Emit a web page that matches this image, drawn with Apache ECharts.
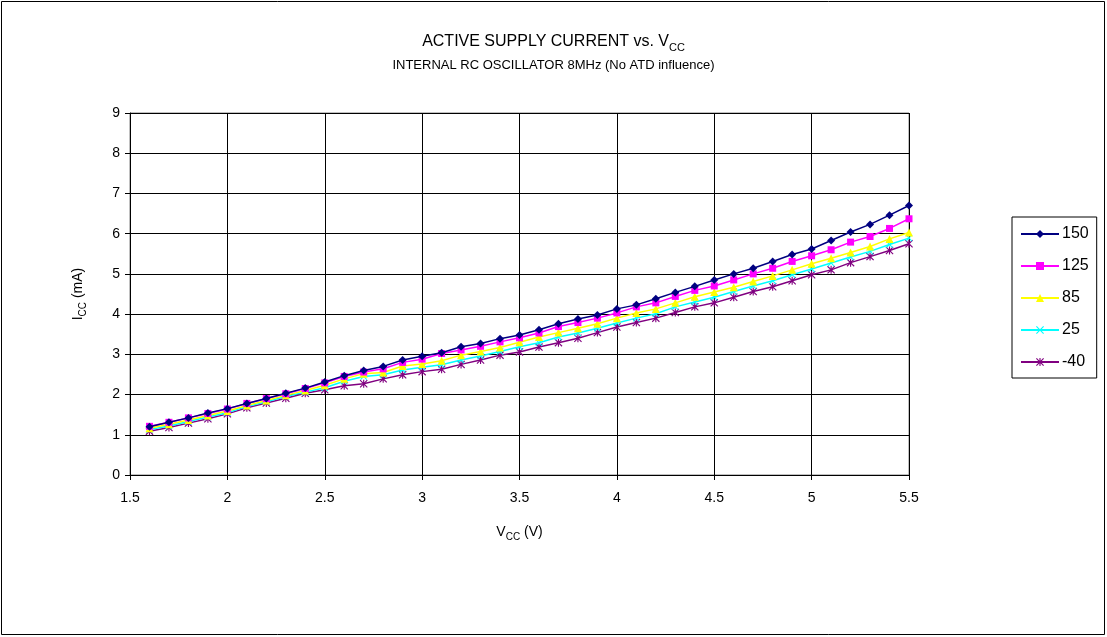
<!DOCTYPE html>
<html>
<head>
<meta charset="utf-8">
<script src="https://cdn.jsdelivr.net/npm/echarts@6/dist/echarts.min.js"></script>
<style>
html,body{margin:0;padding:0;background:#fff;}
#chart{width:1107px;height:637px;}
</style>
</head>
<body>
<div id="chart"></div>
<script>
const vcc = [1.6,1.7,1.8,1.9,2.0,2.1,2.2,2.3,2.4,2.5,2.6,2.7,2.8,2.9,3.0,3.1,3.2,3.3,3.4,3.5,3.6,3.7,3.8,3.9,4.0,4.1,4.2,4.3,4.4,4.5,4.6,4.7,4.8,4.9,5.0,5.1,5.2,5.3,5.4,5.5];
const s150 = [1.20,1.31,1.42,1.54,1.65,1.78,1.90,2.03,2.16,2.31,2.47,2.60,2.70,2.86,2.95,3.04,3.19,3.27,3.39,3.48,3.61,3.76,3.88,3.98,4.13,4.23,4.38,4.54,4.69,4.85,5.00,5.14,5.31,5.48,5.62,5.83,6.04,6.23,6.46,6.70];
const s125 = [1.21,1.31,1.42,1.53,1.64,1.78,1.90,2.02,2.15,2.29,2.45,2.56,2.64,2.80,2.88,3.02,3.11,3.20,3.31,3.41,3.53,3.69,3.79,3.90,4.03,4.18,4.28,4.44,4.59,4.70,4.85,5.00,5.14,5.31,5.45,5.60,5.79,5.93,6.13,6.37];
const s85 = [1.16,1.26,1.37,1.48,1.59,1.73,1.85,1.98,2.10,2.23,2.39,2.52,2.55,2.71,2.76,2.84,2.98,3.07,3.17,3.30,3.43,3.54,3.65,3.76,3.90,4.03,4.13,4.28,4.43,4.55,4.67,4.81,4.95,5.10,5.25,5.39,5.53,5.68,5.87,6.03];
const s25 = [1.13,1.22,1.33,1.44,1.55,1.70,1.82,1.95,2.06,2.17,2.33,2.45,2.49,2.61,2.68,2.74,2.86,2.96,3.07,3.19,3.29,3.43,3.53,3.65,3.78,3.90,4.01,4.18,4.30,4.42,4.56,4.70,4.83,4.98,5.12,5.27,5.42,5.56,5.73,5.89];
const sm40 = [1.09,1.18,1.29,1.40,1.52,1.67,1.79,1.91,2.03,2.12,2.22,2.27,2.39,2.49,2.57,2.63,2.75,2.86,2.98,3.06,3.18,3.29,3.40,3.54,3.68,3.79,3.90,4.04,4.18,4.28,4.42,4.56,4.68,4.83,4.98,5.10,5.28,5.43,5.58,5.75];
const seriesNames = ['150','125','85','25','-40'];
const yTicks = [0,1,2,3,4,5,6,7,8,9];
const xTicks = [1.5,2,2.5,3,3.5,4,4.5,5,5.5];

const allData = [s150,s125,s85,s25,sm40];
const colors = ['#000080','#FF00FF','#FFFF00','#00FFFF','#800080'];
const xMark = 'path://M0,1 L1,0 L5,4 L9,0 L10,1 L6,5 L10,9 L9,10 L5,6 L1,10 L0,9 L4,5 Z';
const astMark = 'path://M0,1 L1,0 L5,4 L9,0 L10,1 L6,5 L10,9 L9,10 L5,6 L1,10 L0,9 L4,5 Z M4.3,0 L5.7,0 L5.7,10 L4.3,10 Z';
const symbols = ['diamond','rect','triangle',xMark,astMark];
const symSizes = [8,7,8,7,8];

const font = 'Liberation Sans, Arial, sans-serif';
const chart = echarts.init(document.getElementById('chart'));
chart.setOption({
  animation:false,
  backgroundColor:'#fff',
  textStyle:{fontFamily:font},
  title:{
    left:'center', top:29, itemGap:6,
    text:'{t|ACTIVE SUPPLY CURRENT vs. V}{s|CC}',
    subtext:'INTERNAL RC OSCILLATOR 8MHz (No ATD influence)',
    textStyle:{fontWeight:'normal',rich:{
      t:{fontSize:16,fontWeight:'normal',fontFamily:font,color:'#000',padding:[0,0,3,0],verticalAlign:'bottom'},
      s:{fontSize:11,fontWeight:'normal',fontFamily:font,color:'#000',verticalAlign:'bottom'}
    }},
    subtextStyle:{fontSize:13,fontFamily:font,color:'#000'}
  },
  graphic:[{type:'rect',shape:{x:1.5,y:1.5,width:1103,height:633},style:{fill:'none',stroke:'#000',lineWidth:1},silent:true}],
  grid:{left:130,right:198,top:113,bottom:162,show:true,borderColor:'#808080',borderWidth:1},
  legend:{
    orient:'vertical', left:1012, top:217,
    padding:[9,8,8,8], itemGap:16, itemWidth:38, itemHeight:10,
    backgroundColor:'#fff', borderColor:'#000', borderWidth:1, borderRadius:0,
    textStyle:{fontSize:16,fontFamily:font,color:'#000',padding:[0,0,0,-2]},
    data:seriesNames
  },
  xAxis:{
    type:'value', min:1.5, max:5.5, interval:0.5,
    name:'{i|V}{s|CC}{i| (V)}', nameLocation:'middle', nameGap:50,
    nameTextStyle:{rich:{
      i:{fontSize:14,fontFamily:font,color:'#000',padding:[0,0,3,0],verticalAlign:'bottom'},
      s:{fontSize:10,fontFamily:font,color:'#000',verticalAlign:'bottom'}
    }},
    axisLine:{show:true,lineStyle:{color:'#000',width:1}},
    axisTick:{show:true,inside:false,length:5,lineStyle:{color:'#000'}},
    axisLabel:{fontSize:14,color:'#000',margin:16,fontFamily:font,
      formatter:function(v){return xTicks.indexOf(v)>=0? String(v):'';}},
    splitLine:{show:true,lineStyle:{color:'#000',width:1}}
  },
  yAxis:{
    type:'value', min:0, max:9, interval:1,
    name:'{i|I}{s|CC}{i| (mA)}', nameLocation:'middle', nameGap:42, nameRotate:90,
    nameTextStyle:{rich:{
      i:{fontSize:14,fontFamily:font,color:'#000',padding:[0,0,3,0],verticalAlign:'bottom'},
      s:{fontSize:10,fontFamily:font,color:'#000',verticalAlign:'bottom'}
    }},
    axisLine:{show:true,lineStyle:{color:'#000',width:1}},
    axisTick:{show:true,inside:false,length:5,lineStyle:{color:'#000'}},
    axisLabel:{fontSize:14,color:'#000',margin:10,fontFamily:font,
      formatter:function(v){return yTicks.indexOf(v)>=0? String(v):'';}},
    splitLine:{show:true,lineStyle:{color:'#000',width:1}}
  },
  series: seriesNames.map(function(n,i){
    return {
      name:n, type:'line',
      data: vcc.map(function(x,j){return [x, allData[i][j]];}),
      symbol:symbols[i], symbolSize:symSizes[i], showSymbol:true,
      itemStyle:{color:colors[i]},
      lineStyle:{color:colors[i],width:1.5},
      z:10-i
    };
  })
});
</script>
</body>
</html>
